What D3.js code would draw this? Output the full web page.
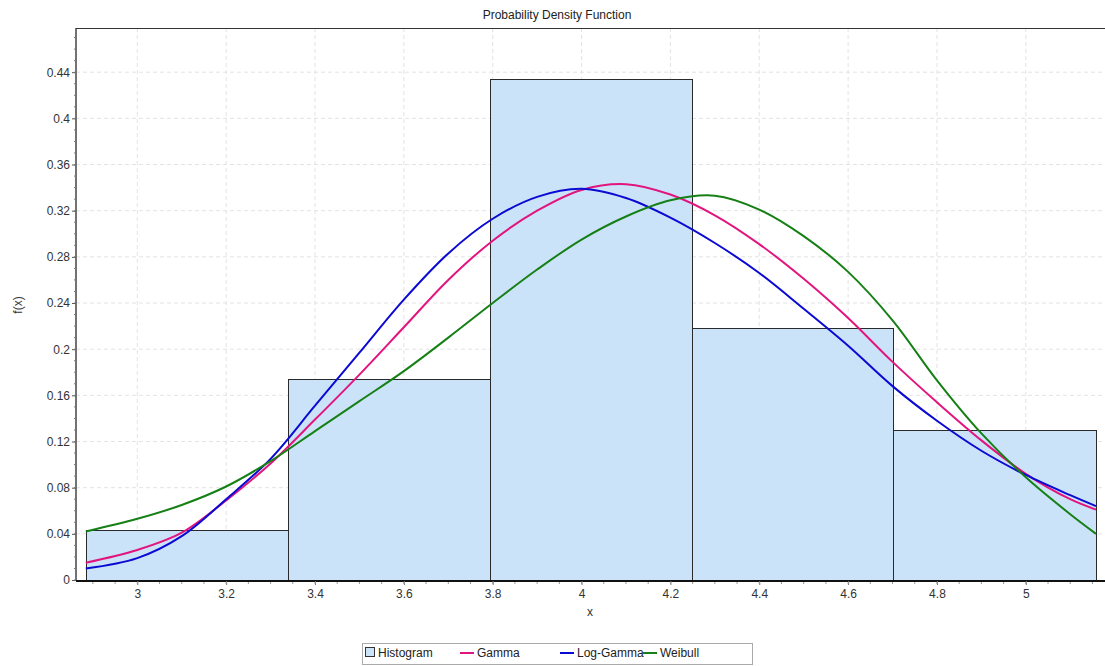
<!DOCTYPE html>
<html>
<head>
<meta charset="utf-8">
<script src="https://cdn.jsdelivr.net/npm/d3@7"></script>
<style>
  body { margin: 0; background: #fff; }
  svg { font-family: "Liberation Sans", Arial, sans-serif; }
</style>
</head>
<body>
<script>
var width = 1105, height = 666;

// histogram bins (edges) and heights
var binEdges = [2.884, 3.339, 3.793, 4.248, 4.702, 5.157];
var binHeights = [0.043, 0.174, 0.434, 0.218, 0.130];

// sample x positions for the fitted curves
var curveX = [2.884, 3.0, 3.1, 3.2, 3.3, 3.4, 3.5, 3.6, 3.7, 3.8, 3.9, 4.0, 4.1, 4.2,
              4.3, 4.4, 4.5, 4.6, 4.7, 4.8, 4.9, 5.0, 5.1, 5.158];
var gammaY = [0.015, 0.026, 0.041, 0.069, 0.101, 0.139, 0.178, 0.219, 0.260, 0.294, 0.320, 0.338, 0.343, 0.334,
              0.316, 0.291, 0.261, 0.227, 0.189, 0.154, 0.121, 0.092, 0.070, 0.061];
var logGammaY = [0.010, 0.019, 0.038, 0.070, 0.105, 0.151, 0.197, 0.243, 0.283, 0.313, 0.332, 0.339, 0.331, 0.314,
                 0.292, 0.266, 0.235, 0.203, 0.168, 0.138, 0.112, 0.091, 0.0735, 0.064];
var weibullY = [0.042, 0.053, 0.065, 0.081, 0.103, 0.129, 0.155, 0.181, 0.210, 0.240, 0.269, 0.295, 0.315, 0.329,
                0.333, 0.321, 0.298, 0.267, 0.225, 0.173, 0.127, 0.089, 0.057, 0.040];

var xTicks = [3, 3.2, 3.4, 3.6, 3.8, 4, 4.2, 4.4, 4.6, 4.8, 5];
var yTicks = [0, 0.04, 0.08, 0.12, 0.16, 0.2, 0.24, 0.28, 0.32, 0.36, 0.4, 0.44];

var series = [
  {name: 'Gamma', values: gammaY, color: '#e2157f'},
  {name: 'Log-Gamma', values: logGammaY, color: '#0a0ad2'},
  {name: 'Weibull', values: weibullY, color: '#168016'}
];

// plot area (note: "top" is reserved on window, so p-prefixed names)
var pLeft = 76, pTop = 28, pRight = 1104, pBottom = 580;

var xscale = d3.scaleLinear().domain([2.862, 5.176]).range([pLeft, pRight]);
var yscale = d3.scaleLinear().domain([0, 0.4783]).range([pBottom, pTop]);

var svg = d3.select("body").append("svg")
  .attr("width", width)
  .attr("height", height);

svg.append("defs").append("clipPath").attr("id", "plot")
  .append("rect").attr("x", pLeft).attr("y", pTop)
  .attr("width", pRight - pLeft).attr("height", pBottom - pTop);

// grid
svg.append("g").selectAll("line")
  .data(xTicks).enter().append("line")
  .attr("x1", d => xscale(d)).attr("x2", d => xscale(d))
  .attr("y1", pTop).attr("y2", pBottom)
  .attr("stroke", "#e3e3e3").attr("stroke-dasharray", "4,3");
svg.append("g").selectAll("line")
  .data(yTicks.slice(1)).enter().append("line")
  .attr("x1", pLeft).attr("x2", pRight)
  .attr("y1", d => yscale(d)).attr("y2", d => yscale(d))
  .attr("stroke", "#e3e3e3").attr("stroke-dasharray", "4,3");

// histogram
var bins = binHeights.map((h, i) => ({x0: binEdges[i], x1: binEdges[i + 1], h: h}));
svg.append("g").selectAll("rect")
  .data(bins).enter().append("rect")
  .attr("x", d => Math.round(xscale(d.x0)) + 0.5)
  .attr("y", d => Math.round(yscale(d.h)) + 0.5)
  .attr("width", d => Math.round(xscale(d.x1)) - Math.round(xscale(d.x0)))
  .attr("height", d => pBottom - Math.round(yscale(d.h)))
  .attr("fill", "#cbe3f9")
  .attr("stroke", "#2a2a2a")
  .attr("stroke-width", 1);

// curves
var line = d3.line()
  .x((d, i) => xscale(curveX[i]))
  .y(d => yscale(d))
  .curve(d3.curveCatmullRom.alpha(0.5));

svg.append("g").attr("clip-path", "url(#plot)")
  .selectAll("path")
  .data(series).enter().append("path")
  .attr("d", d => line(d.values))
  .attr("fill", "none")
  .attr("stroke", d => d.color)
  .attr("stroke-width", 2);

// frame top
svg.append("line").attr("x1", pLeft).attr("x2", width).attr("y1", pTop + 0.5).attr("y2", pTop + 0.5)
  .attr("stroke", "#333");

// y axis
var yMinor = d3.range(0, 0.475, 0.01);
var y_axis = d3.axisLeft(yscale)
  .tickValues(yTicks)
  .tickFormat(d => String(+d.toFixed(2)))
  .tickSize(4)
  .tickPadding(2);
var gy = svg.append("g").attr("class", "yaxis")
  .attr("transform", "translate(" + pLeft + ",0)")
  .call(y_axis);
gy.select(".domain").attr("stroke", "#444").attr("stroke-width", 1.5).attr("d", "M0," + pTop + "V" + pBottom);
gy.selectAll(".tick line").attr("stroke", "#555");
gy.selectAll("text").attr("fill", "#333").style("font-size", "12px");
svg.append("g").selectAll("line")
  .data(yMinor).enter().append("line")
  .attr("x1", pLeft - 2).attr("x2", pLeft)
  .attr("y1", d => yscale(d)).attr("y2", d => yscale(d))
  .attr("stroke", "#777");

// x axis
var xMinor = d3.range(2.9, 5.17, 0.05);
var x_axis = d3.axisBottom(xscale)
  .tickValues(xTicks)
  .tickFormat(d => String(+d.toFixed(1)))
  .tickSize(4)
  .tickPadding(4);
var gx = svg.append("g").attr("class", "xaxis")
  .attr("transform", "translate(0," + (pBottom + 1) + ")")
  .call(x_axis);
gx.select(".domain").attr("stroke", "#111").attr("stroke-width", 2).attr("d", "M" + pLeft + ",0H" + width);
gx.selectAll(".tick line").attr("stroke", "#777");
gx.selectAll("text").attr("fill", "#333").style("font-size", "12px");
svg.append("g").selectAll("line")
  .data(xMinor).enter().append("line")
  .attr("x1", d => xscale(d)).attr("x2", d => xscale(d))
  .attr("y1", pBottom + 2).attr("y2", pBottom + 4)
  .attr("stroke", "#999");

// labels
svg.append("text").attr("x", 557).attr("y", 19)
  .attr("text-anchor", "middle").style("font-size", "12px").attr("fill", "#222")
  .text("Probability Density Function");
svg.append("text").attr("x", (pLeft + pRight) / 2).attr("y", 616)
  .attr("text-anchor", "middle").style("font-size", "12px").attr("fill", "#333")
  .text("x");
svg.append("text").attr("transform", "translate(22,305) rotate(-90)")
  .attr("text-anchor", "middle").style("font-size", "12px").attr("fill", "#333")
  .text("f(x)");

// legend
var legend = svg.append("g");
legend.append("rect").attr("x", 362.5).attr("y", 643.5).attr("width", 390).attr("height", 21)
  .attr("fill", "#fff").attr("stroke", "#aaa");
legend.append("rect").attr("x", 365.5).attr("y", 647.5).attr("width", 9).attr("height", 9)
  .attr("fill", "#cbe3f9").attr("stroke", "#333");
legend.append("text").attr("x", 378).attr("y", 657).style("font-size", "12px").attr("fill", "#222").text("Histogram");
var legendX = [460, 560, 643];
series.forEach((s, i) => {
  legend.append("line").attr("x1", legendX[i]).attr("x2", legendX[i] + 14)
    .attr("y1", 653).attr("y2", 653).attr("stroke", s.color).attr("stroke-width", 2);
  legend.append("text").attr("x", legendX[i] + 17).attr("y", 657)
    .style("font-size", "12px").attr("fill", "#222").text(s.name);
});
</script>
</body>
</html>
